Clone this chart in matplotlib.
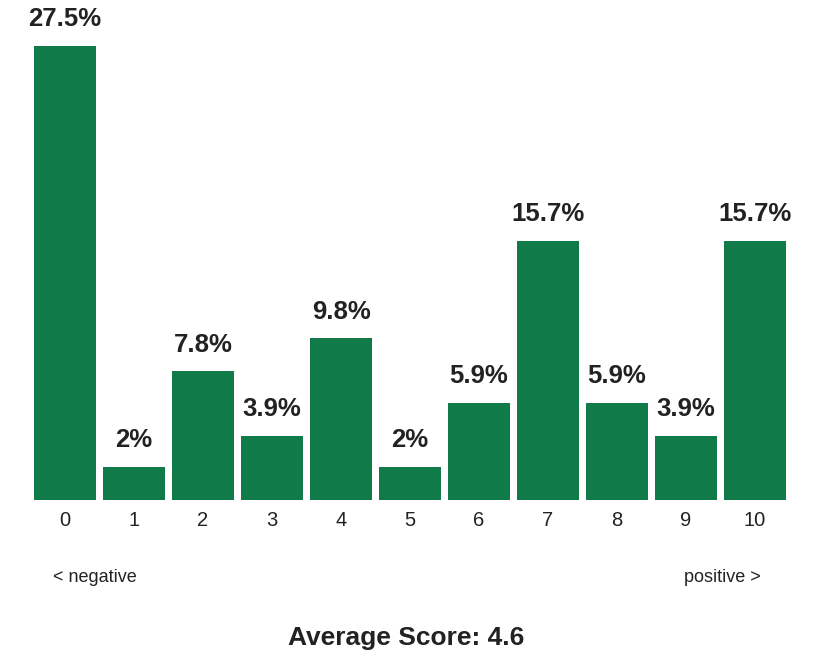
import matplotlib.pyplot as plt

plt.rcParams['font.family'] = ['Liberation Sans', 'DejaVu Sans']

scores = [0, 1, 2, 3, 4, 5, 6, 7, 8, 9, 10]
pct = [27.5, 2, 7.8, 3.9, 9.8, 2, 5.9, 15.7, 5.9, 3.9, 15.7]
labels = ['27.5%', '2%', '7.8%', '3.9%', '9.8%', '2%', '5.9%', '15.7%', '5.9%', '3.9%', '15.7%']
avg_score = 4.6

fig = plt.figure(figsize=(8.13, 6.59), dpi=100)
ax = fig.add_axes([34 / 813, 159 / 659, 752 / 813, 454 / 659])

bars = ax.bar(scores, pct, width=0.9, color='#107A48')
for b, lab in zip(bars, labels):
    ax.annotate(lab, (b.get_x() + b.get_width() / 2, b.get_height()),
                xytext=(0, 10.5), textcoords='offset points',
                ha='center', va='bottom', fontsize=18.5, fontweight='bold',
                color='#222222')

ax.set_xlim(-0.45, 10.45)
ax.set_ylim(0, 27.5)
ax.set_xticks(scores)
ax.set_xticklabels([str(s) for s in scores], fontsize=14.5, color='#222222')
ax.tick_params(axis='x', length=0, pad=8)
ax.set_yticks([])
for s in ax.spines.values():
    s.set_visible(False)

fig.text(53 / 813, 1 - 578 / 659, '< negative', fontsize=13, color='#222222',
         ha='left', va='center')
fig.text(761 / 813, 1 - 578 / 659, 'positive >', fontsize=13, color='#222222',
         ha='right', va='center')
fig.text(0.5, 1 - 638 / 659, f'Average Score: {avg_score}', fontsize=19,
         fontweight='bold', color='#222222', ha='center', va='center')

fig.savefig('out.png', dpi=100)
plt.close()
